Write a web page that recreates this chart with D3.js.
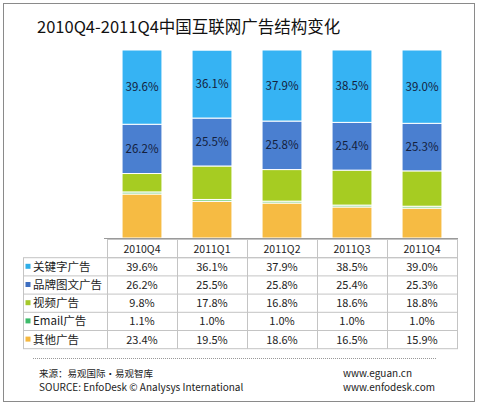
<!DOCTYPE html>
<html>
<head>
<meta charset="utf-8">
<script src="https://cdn.jsdelivr.net/npm/d3@7"></script>
<style>
  body { margin: 0; background: #fff; }
  text { font-family: "Noto Sans CJK SC", "Noto Sans", sans-serif; }
</style>
</head>
<body>
<div id="chart"></div>
<script>
// data
const quarters = ["2010Q4", "2011Q1", "2011Q2", "2011Q3", "2011Q4"];
const seriesNames = ["关键字广告", "品牌图文广告", "视频广告", "Email广告", "其他广告"];
const keywordVals = [39.6, 36.1, 37.9, 38.5, 39.0];
const brandVals = [26.2, 25.5, 25.8, 25.4, 25.3];
const videoVals = [9.8, 17.8, 16.8, 18.6, 18.8];
const emailVals = [1.1, 1.0, 1.0, 1.0, 1.0];
const otherVals = [23.4, 19.5, 18.6, 16.5, 15.9];

const barColors = ["#36b3f3", "#4a7fd0", "#a6cc22", "#86d486", "#f6bb43"];
const keyColors = ["#2eaee8", "#3e6ec0", "#a5c92a", "#3dbb6a", "#f5b73e"];

const W = 479, H = 407;
const svg = d3.select("#chart").append("svg")
    .attr("width", W).attr("height", H);

// frame
svg.append("rect")
    .attr("x", 3.5).attr("y", 3.5)
    .attr("width", 471).attr("height", 398)
    .attr("fill", "#fff").attr("stroke", "#8a8a8a");

svg.append("text")
    .attr("x", 37).attr("y", 33)
    .attr("font-size", 16.5)
    .attr("fill", "#111")
    .text("2010Q4-2011Q4中国互联网广告结构变化");

const plotTop = 50, plotBottom = 238;
const x = d3.scaleBand().domain(quarters).range([107, 457]).paddingInner(0.43).paddingOuter(0.215);
const y = d3.scaleLinear().domain([0, 100]).range([plotBottom, plotTop]).clamp(true);

// stack rows bottom -> top
const rows = quarters.map((q, i) => ({
    q: q,
    s0: keywordVals[i], s1: brandVals[i], s2: videoVals[i], s3: emailVals[i], s4: otherVals[i]
}));
const stack = d3.stack().keys(["s4", "s3", "s2", "s1", "s0"]);
const layers = stack(rows);

const g = svg.append("g");
layers.forEach(layer => {
    const idx = +layer.key.slice(1);
    g.selectAll(".seg" + idx)
        .data(layer)
        .enter()
        .append("rect")
        .attr("class", "seg" + idx)
        .attr("x", d => x(d.data.q))
        .attr("width", x.bandwidth())
        .attr("y", d => y(d[1]))
        .attr("height", d => Math.max(0, y(d[0]) - y(d[1])))
        .attr("fill", barColors[idx])
        .attr("stroke", "#fff")
        .attr("stroke-width", 1);

    if (idx <= 1) {
        g.selectAll(".lab" + idx)
            .data(layer)
            .enter()
            .append("text")
            .attr("x", d => x(d.data.q) + x.bandwidth() / 2)
            .attr("y", d => (y(d[0]) + y(d[1])) / 2 + 4)
            .attr("text-anchor", "middle")
            .attr("font-size", 11.5)
            .attr("fill", "#14213d")
            .text(d => d.data["s" + idx].toFixed(1) + "%");
    }
});

// base line
svg.append("line")
    .attr("x1", 104).attr("x2", 458)
    .attr("y1", plotBottom + 0.5).attr("y2", plotBottom + 0.5)
    .attr("stroke", "#9a9a9a");

// table
const tTop = 239.5, rowH = 18.2, tLeft = 23.5, colL = 107.5;
const allVals = [keywordVals, brandVals, videoVals, emailVals, otherVals];
const grid = svg.append("g").attr("stroke", "#c4c4c4").attr("fill", "none");

// header cells
grid.append("rect")
    .attr("x", colL).attr("y", tTop)
    .attr("width", 350).attr("height", rowH);
grid.append("rect")
    .attr("x", tLeft).attr("y", tTop + rowH)
    .attr("width", 457.5 - tLeft).attr("height", rowH * 5);
seriesNames.forEach((s, i) => {
    if (i > 0) {
        grid.append("line")
            .attr("x1", tLeft).attr("x2", 457.5)
            .attr("y1", tTop + rowH * (i + 1)).attr("y2", tTop + rowH * (i + 1));
    }
});
grid.append("line")
    .attr("x1", colL).attr("x2", colL)
    .attr("y1", tTop).attr("y2", tTop + rowH * 6);
quarters.forEach((q, i) => {
    if (i > 0) {
        const xx = Math.round(x(q) - x.step() * x.paddingInner() / 2) + 0.5;
        grid.append("line")
            .attr("x1", xx).attr("x2", xx)
            .attr("y1", tTop).attr("y2", tTop + rowH * 6);
    }
});

svg.selectAll(".hdr")
    .data(quarters)
    .enter()
    .append("text")
    .attr("x", d => x(d) + x.bandwidth() / 2)
    .attr("y", tTop + rowH / 2 + 4)
    .attr("text-anchor", "middle")
    .attr("font-size", 10.5)
    .attr("fill", "#222")
    .text(d => d);

seriesNames.forEach((s, i) => {
    const cy = tTop + rowH * (i + 1) + rowH / 2;
    svg.append("rect")
        .attr("x", 25.5).attr("y", cy - 3)
        .attr("width", 5).attr("height", 5)
        .attr("fill", keyColors[i]);
    svg.append("text")
        .attr("x", 33).attr("y", cy + 4)
        .attr("font-size", 11.5)
        .attr("fill", "#222")
        .text(s);
    svg.selectAll(".cell" + i)
        .data(allVals[i])
        .enter()
        .append("text")
        .attr("x", (d, j) => x(quarters[j]) + x.bandwidth() / 2)
        .attr("y", cy + 4)
        .attr("text-anchor", "middle")
        .attr("font-size", 11)
        .attr("fill", "#222")
        .text(d => d.toFixed(1) + "%");
});

// dotted separator
svg.append("line")
    .attr("x1", 33).attr("x2", 437)
    .attr("y1", 358.5).attr("y2", 358.5)
    .attr("stroke", "#999")
    .attr("stroke-dasharray", "1,1");

// footer
const foot = svg.append("g").attr("font-size", 10).attr("fill", "#222");
foot.append("text").attr("x", 39).attr("y", 377).attr("font-size", 9.5).text("来源：易观国际·易观智库");
foot.append("text").attr("x", 39).attr("y", 391).text("SOURCE: EnfoDesk © Analysys International");
foot.append("text").attr("x", 343).attr("y", 377).text("www.eguan.cn");
foot.append("text").attr("x", 343).attr("y", 391).text("www.enfodesk.com");
</script>
</body>
</html>
